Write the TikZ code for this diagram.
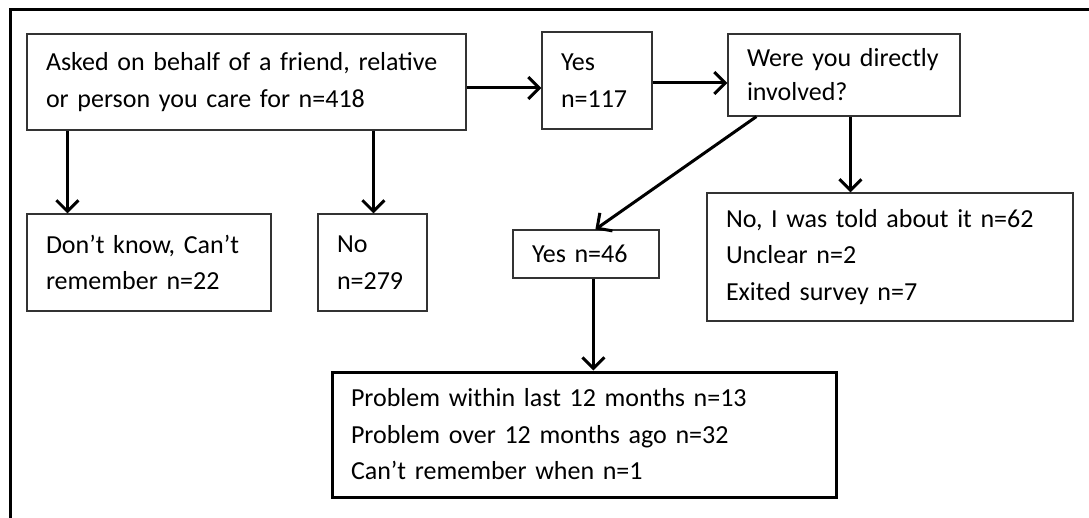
\documentclass[tikz,border=0pt]{standalone}
\usepackage{fontspec}
\setmainfont[WordSpace=0.7]{Carlito}
\usetikzlibrary{arrows.meta}

\begin{document}
\begin{tikzpicture}[x=1pt, y=-1pt]
        \tikzset{
          box/.style={draw=black!80, line width=1.2pt, align=left, inner xsep=19pt,
                      inner ysep=0pt, font=\fontsize{26}{36.5}\selectfont},
          bigbox/.style={box, draw=black, line width=3pt},
          arr/.style={line width=3pt, -{Straight Barb[length=11pt, width=22pt, line width=3pt]}},
          frame/.style={line width=3pt}
        }
        \useasboundingbox (0,0) rectangle (1089,518);

        % — outer frame —
        \draw[frame] (10,518) -- (10,10) -- (1089,10);

        % — row 1 —
        \node[box, text width=401pt, minimum height=96pt] (ask) at (246.5,82)
          {Asked on behalf of a friend, relative\\or person you care for n=418};
        \node[box, text width=72pt, minimum height=97pt] (yesA) at (597,80.5)
          {Yes\\n=117};
        \node[box, text width=194pt, minimum height=82pt, font=\fontsize{26}{34}\selectfont] (direct) at (844,75)
          {Were you directly\\involved?};

        % — row 2 —
        \node[box, text width=206pt, minimum height=97pt] (dunno) at (149,262.5)
          {Don’t know, Can’t\\remember n=22};
        \node[box, text width=71pt, minimum height=97pt] (no) at (372.5,262.5)
          {No\\n=279};
        \node[box, text width=108pt, minimum height=48pt] (yesB) at (586,254)
          {Yes n=46};
        \node[box, text width=328pt, minimum height=128pt] (told) at (890,257)
          {No, I was told about it n=62\\Unclear n=2\\Exited survey n=7};

        % — row 3 —
        \node[bigbox, text width=466pt, minimum height=125pt] (problem) at (584,434.5)
          {Problem within last 12 months n=13\\Problem over 12 months ago n=32\\Can’t remember when n=1};

        % arrows
        \draw[arr] ([yshift=-6pt]ask.east) -- ([yshift=-6pt]ask.east -| yesA.west);
        \draw[arr] ([yshift=-2.5pt]yesA.east) -- ([yshift=-2.5pt]yesA.east -| direct.west);
        \draw[arr] ([xshift=41pt]ask.south west) -- ([xshift=41pt]ask.south west |- dunno.north);
        \draw[arr] ([xshift=347pt]ask.south west) -- ([xshift=347pt]ask.south west |- no.north);
        \draw[arr] ([xshift=29pt]direct.south west) -- ([xshift=83pt]yesB.north west);
        \draw[arr] ([xshift=123pt]direct.south west) -- ([xshift=123pt]direct.south west |- told.north);
        \draw[arr] ([xshift=81pt]yesB.south west) -- ([xshift=81pt]yesB.south west |- problem.north);
\end{tikzpicture}
\end{document}
